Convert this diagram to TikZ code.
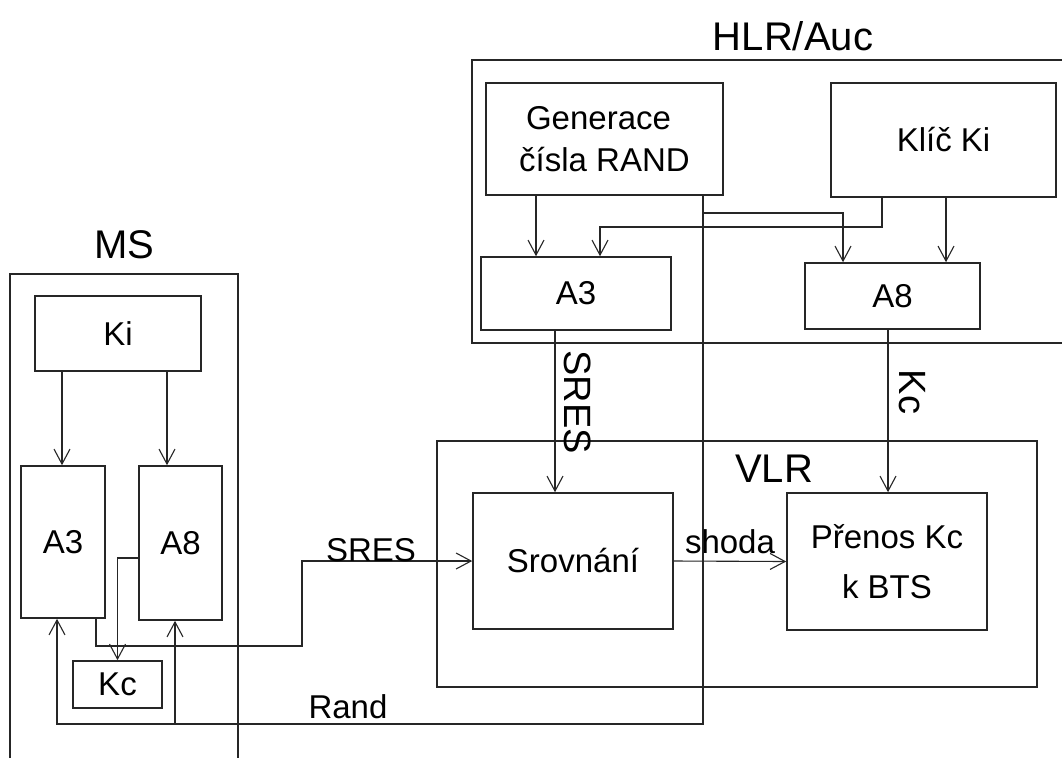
\documentclass[tikz,border=0pt]{standalone}
\usepackage{fontspec}
\setmainfont{Liberation Sans}
\usetikzlibrary{arrows.meta}
\begin{document}
\begin{tikzpicture}[x=1pt,y=-1pt,
  line join=miter,
  frame/.style={draw=black!85, line width=1.6pt},
  box/.style={draw=black!85, line width=1.6pt, inner sep=0pt, align=center,
    font=\fontsize{33}{40}\selectfont},
  title/.style={font=\fontsize{40}{44}\selectfont, inner sep=0pt},
  lab/.style={font=\fontsize{33}{38}\selectfont, inner sep=0pt},
  vlab/.style={font=\fontsize{38}{42}\selectfont, inner sep=0pt, rotate=-90},
  conn/.style={draw=black!85, line width=1.1pt},
  arr/.style={conn, -{Straight Barb[length=15pt,width=16pt,line width=1.1pt]}}]
\useasboundingbox (0,0) rectangle (1062,758);
\fill[white] (0,0) rectangle (1062,758);

% frames
\draw[frame] (10,758) -- (10,274) -- (238,274) -- (238,758);
\draw[frame] (1062,60) -- (472,60) -- (472,343) -- (1062,343);
\draw[frame] (437,441) rectangle (1037,687);

% titles
\node[title] (tMS) at (124,245) {MS};
\node[title] (tHLR) at (793,36) {HLR/Auc};
\node[title] (tVLR) at (774,469) {VLR};

% MS nodes
\node[box, minimum width=166pt, minimum height=75pt] (Ki) at (118,333.5) {Ki};
\node[box, minimum width=84pt, minimum height=152pt] (A3) at (63,542) {A3};
\node[box, minimum width=83pt, minimum height=154pt] (A8) at (180.5,543) {A8};
\node[box, minimum width=89pt, minimum height=47pt] (Kc) at (117.5,684.5) {Kc};

% HLR nodes
\node[box, minimum width=237pt, minimum height=112pt,
  font=\fontsize{33}{42}\selectfont] (Gen) at (604.5,139) {\hspace*{-12pt}Generace\\čísla RAND};
\node[box, minimum width=225pt, minimum height=114pt] (Klic) at (943.5,140) {Klíč Ki};
\node[box, minimum width=190pt, minimum height=73pt] (A3H) at (576,293.5) {A3};
\node[box, minimum width=175pt, minimum height=66pt] (A8H) at (892.5,296) {A8};

% VLR nodes
\node[box, minimum width=200pt, minimum height=136pt] (Srov) at (573,561) {Srovnání};
\node[box, minimum width=200pt, minimum height=137pt,
  font=\fontsize{33}{50}\selectfont] (Pren) at (887,561.5) {Přenos Kc\\k BTS};

% MS connectors
\draw[arr] (Ki.south -| 62,0) -- (A3.north -| 62,0);
\draw[arr] (Ki.south -| 167,0) -- (A8.north -| 167,0);
\draw[arr] (A8.west |- 0,558) -| (Kc.north);
\draw[arr] (A3.south -| 96,0) |- (302,646) |- (Srov.west);

% Rand
\coordinate (rb) at (175,724);
\draw[arr] (Gen.south -| 703,0) |- (57,724) -- (A3.south -| 57,0);
\draw[arr] (rb) -- (A8.south -| rb);

% HLR connectors
\draw[arr] (Gen.south -| 536,0) -- (A3H.north -| 536,0);
\coordinate (gb) at (703,213);
\draw[arr] (gb) -| (A8H.north -| 843,0);
\draw[arr] (Klic.south -| 882,0) |- (600,227) -- (A3H.north -| 600,0);
\draw[arr] (Klic.south -| 946,0) -- (A8H.north -| 946,0);

% to VLR
\draw[arr] (A3H.south -| 555,0) -- (Srov.north -| 555,0);
\draw[arr] (A8H.south -| 888,0) -- (Pren.north -| 888,0);
\draw[arr] (Srov.east) -- (Pren.west);

% labels
\node[lab] (lS1) at (371,550) {SRES};
\node[lab] (lSh) at (730,542) {shoda};
\node[lab] (lR) at (348,707) {Rand};
\node[vlab] (lS2) at (578,402) {SRES};
\node[vlab] (lKc) at (912,392) {Kc};
\end{tikzpicture}
\end{document}
